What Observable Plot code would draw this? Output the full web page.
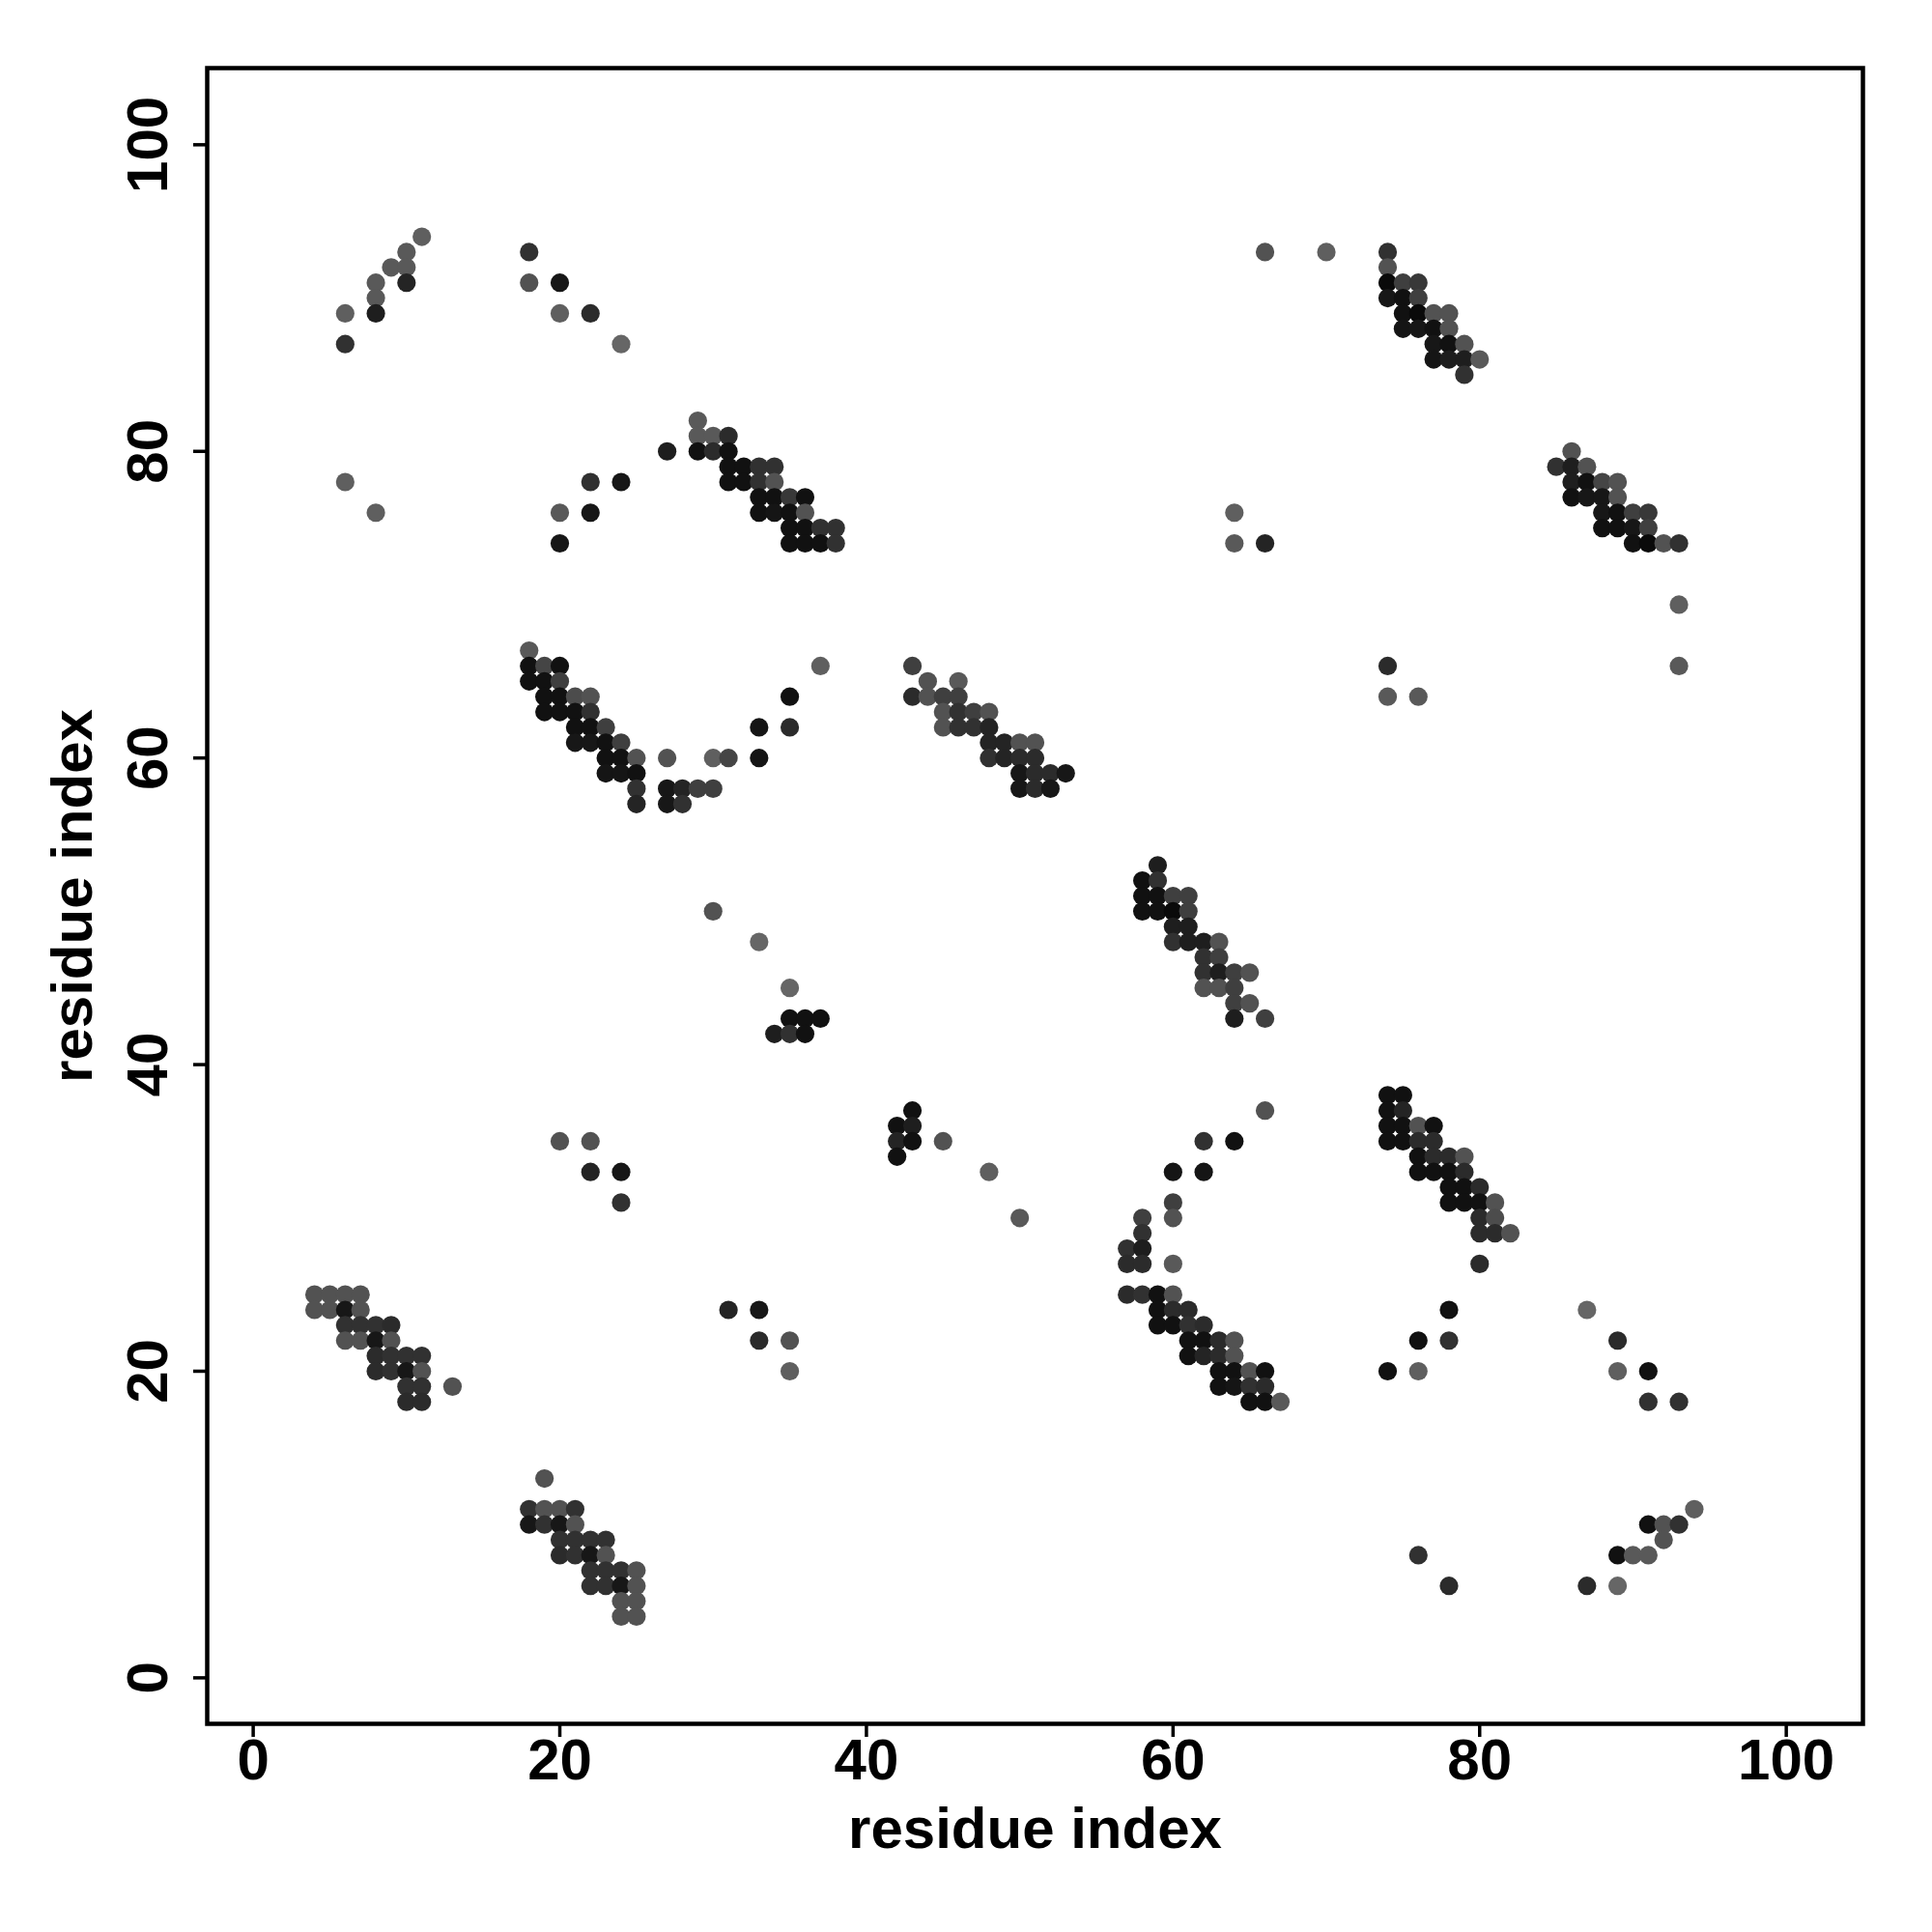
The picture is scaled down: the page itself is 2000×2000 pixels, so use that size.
<!DOCTYPE html>
<html>
<head>
<meta charset="utf-8">
<script src="https://cdn.jsdelivr.net/npm/d3@7"></script>
<script src="https://cdn.jsdelivr.net/npm/@observablehq/plot@0.6"></script>
<style>
  html, body { margin: 0; padding: 0; background: #ffffff; }
  #chart svg { display: block; }
</style>
</head>
<body>
<div id="chart"></div>
<script>
// Each contact: [residue i, residue j, score] — score drives the grey shade (higher = darker)
const clusterA = [[6,89,0.35],[6,87,0.7],[8,91,0.4],[8,90,0.4],[8,89,0.85],[9,92,0.4],[10,93,0.4],[10,92,0.4],[10,91,0.8],[11,94,0.35]];
const clusterB = [[18,93,0.7],[18,91,0.45],[20,91,0.9],[20,89,0.35],[22,89,0.75],[24,87,0.3]];
const clusterC = [[6,78,0.35],[8,76,0.35],[20,76,0.4],[20,74,0.9],[22,78,0.7],[22,76,0.9],[24,78,0.9]];
const clusterE = [
  [27,80,0.85],[29,82,0.4],
  [29,81,0.4],[30,81,0.4],[31,81,0.75],
  [29,80,0.95],[30,80,0.75],[31,80,0.95],
  [31,79,0.95],[32,79,0.95],[33,79,0.7],[34,79,0.7],
  [31,78,0.95],[32,78,0.95],[33,78,0.7],[34,78,0.45],
  [33,77,0.95],[34,77,0.95],[35,77,0.65],[36,77,0.95],
  [33,76,0.95],[34,76,0.92],[35,76,0.95],[36,76,0.45],
  [35,75,0.95],[36,75,0.95],[37,75,0.7],[38,75,0.7],
  [35,74,0.95],[36,74,0.95],[37,74,0.95],[38,74,0.7]
];
const clusterF = [
  [18,67,0.4],
  [18,66,0.95],[19,66,0.55],[20,66,0.95],
  [18,65,0.95],[19,65,0.95],[20,65,0.6],
  [19,64,0.95],[20,64,0.95],[21,64,0.5],[22,64,0.45],
  [19,63,0.95],[20,63,0.95],[21,63,0.95],[22,63,0.7],
  [21,62,0.95],[22,62,0.95],[23,62,0.6],
  [21,61,0.9],[22,61,0.9],[23,61,0.95],[24,61,0.6],
  [23,60,0.95],[24,60,0.95],[25,60,0.45],
  [23,59,0.92],[24,59,0.92],[25,59,0.95],
  [25,58,0.7],[25,57,0.8],
  [27,60,0.45],[30,60,0.35],[31,60,0.55],
  [27,58,0.9],[28,58,0.8],[29,58,0.6],[30,58,0.6],
  [27,57,0.9],[28,57,0.7],
  [33,60,0.92],[33,62,0.92],[35,62,0.75],[35,64,0.95],[37,66,0.35]
];
const clusterG = [
  [43,66,0.6],
  [44,65,0.45],[46,65,0.4],
  [43,64,0.75],[44,64,0.45],[45,64,0.6],[46,64,0.6],
  [45,63,0.45],[46,63,0.7],[47,63,0.6],[48,63,0.45],
  [45,62,0.45],[46,62,0.7],[47,62,0.7],[48,62,0.8],
  [48,61,0.8],[49,61,0.8],[50,61,0.45],[51,61,0.45],
  [48,60,0.7],[49,60,0.8],[50,60,0.75],[51,60,0.75],
  [50,59,0.9],[51,59,0.75],[52,59,0.75],[53,59,0.9],
  [50,58,0.9],[51,58,0.75],[52,58,0.9]
];
const clusterH = [
  [59,53,0.85],
  [58,52,0.95],[59,52,0.7],
  [58,51,0.95],[59,51,0.95],[60,51,0.6],[61,51,0.6],
  [58,50,0.95],[59,50,0.95],[60,50,1.0],[61,50,0.6],
  [60,49,0.85],[61,49,0.85],
  [60,48,0.7],[61,48,0.85],[62,48,0.85],[63,48,0.45],
  [62,47,0.7],[63,47,0.6],
  [62,46,0.7],[63,46,0.85],[64,46,0.6],[65,46,0.45],
  [62,45,0.45],[63,45,0.45],[64,45,0.6],
  [64,44,0.6],[65,44,0.45],
  [64,43,0.85],[66,43,0.6]
];
const clusterI = [[30,50,0.45],[33,48,0.3],[35,45,0.3],[35,43,0.95],[36,43,0.95],[37,43,0.95],[34,42,0.85],[35,42,0.7],[36,42,0.95]];
const clusterJ = [[43,37,0.95],[42,36,0.95],[43,36,0.85],[42,35,0.8],[43,35,0.95],[45,35,0.45],[42,34,0.95],[48,33,0.35],[50,30,0.4]];
const clusterK = [
  [66,37,0.45],[62,35,0.7],[64,35,0.95],[60,33,0.92],[62,33,0.92],[60,31,0.6],[60,30,0.45],
  [58,30,0.6],[58,29,0.7],[57,28,0.7],[58,28,0.85],[57,27,0.75],[58,27,0.75],[60,27,0.4],
  [57,25,0.75],[58,25,0.7],[59,25,0.95],[60,25,0.45],
  [59,24,0.95],[60,24,0.75],[61,24,0.75],
  [59,23,0.95],[60,23,0.95],[61,23,0.7],[62,23,0.75],
  [61,22,0.95],[62,22,0.95],[63,22,0.75],[64,22,0.45],
  [61,21,0.95],[62,21,0.8],[63,21,0.75],[64,21,0.45],
  [63,20,0.95],[64,20,0.95],[65,20,0.45],[66,20,0.95],
  [63,19,0.95],[64,19,0.92],[65,19,0.7],[66,19,0.75],
  [65,18,0.95],[66,18,0.95],[67,18,0.4]
];
const clusterL = [
  [74,38,0.95],[75,38,0.95],
  [74,37,0.95],[75,37,0.8],
  [74,36,0.95],[75,36,0.95],[76,36,0.45],[77,36,0.95],
  [74,35,0.95],[75,35,0.95],[76,35,0.75],[77,35,0.75],
  [76,34,0.95],[77,34,0.75],[78,34,0.75],[79,34,0.45],
  [76,33,0.95],[77,33,0.95],[78,33,0.95],[79,33,0.75],
  [78,32,0.95],[79,32,0.95],[80,32,0.75],
  [78,31,0.95],[79,31,0.95],[80,31,0.95],[81,31,0.45],
  [80,30,0.75],[81,30,0.5],
  [80,29,0.75],[81,29,0.75],[82,29,0.45],
  [80,27,0.75]
];
const clusterM = [
  [87,24,0.3],[78,24,0.95],[76,22,0.95],[78,22,0.7],[74,20,0.95],[76,20,0.35],
  [89,22,0.75],[89,20,0.35],[91,20,0.95],[91,18,0.7],[93,18,0.7],
  [94,11,0.35],[91,10,0.95],[92,10,0.45],[93,10,0.7],[92,9,0.45],[89,8,0.95],[90,8,0.4],[91,8,0.4],[87,6,0.75],[89,6,0.3],
  [76,8,0.7],[78,6,0.75]
];
const clusterN = [
  [4,25,0.45],[5,25,0.45],[6,25,0.45],[7,25,0.45],
  [4,24,0.45],[5,24,0.45],[6,24,0.9],[7,24,0.45],
  [6,23,0.7],[7,23,0.7],[8,23,0.7],[9,23,0.75],
  [6,22,0.45],[7,22,0.45],[8,22,0.9],[9,22,0.45],
  [8,21,0.75],[9,21,0.7],[10,21,0.7],[11,21,0.7],
  [8,20,0.75],[9,20,0.7],[10,20,0.9],[11,20,0.45],
  [10,19,0.7],[11,19,0.7],[13,19,0.45],
  [10,18,0.75],[11,18,0.75]
];
const clusterO = [
  [19,13,0.45],
  [18,11,0.7],[19,11,0.45],[20,11,0.45],[21,11,0.7],
  [18,10,0.9],[19,10,0.7],[20,10,0.9],[21,10,0.45],
  [20,9,0.7],[21,9,0.7],[22,9,0.7],[23,9,0.7],
  [20,8,0.75],[21,8,0.7],[22,8,0.9],[23,8,0.45],
  [22,7,0.7],[23,7,0.7],[24,7,0.7],[25,7,0.45],
  [22,6,0.7],[23,6,0.7],[24,6,0.9],[25,6,0.45],
  [24,5,0.45],[25,5,0.45],
  [24,4,0.45],[25,4,0.45]
];
const clusterP = [[20,35,0.45],[22,35,0.45],[22,33,0.8],[24,33,0.9],[24,31,0.7],[31,24,0.8],[33,24,0.9],[33,22,0.75],[35,22,0.45],[35,20,0.35]];
const clusterQ = [[66,93,0.45],[70,93,0.35],[64,76,0.35],[64,74,0.4],[66,74,0.8],[74,66,0.75],[74,64,0.4],[76,64,0.4],[93,70,0.35],[93,66,0.4]];
const clusterR = [
  [74,93,0.7],[74,92,0.45],
  [74,91,1.0],[75,91,0.6],[76,91,0.65],
  [74,90,0.9],[75,90,0.95],[76,90,0.6],
  [75,89,0.95],[76,89,1.0],[77,89,0.45],[78,89,0.45],
  [75,88,0.92],[76,88,0.9],[77,88,0.95],[78,88,0.45],
  [77,87,0.9],[78,87,0.95],[79,87,0.45],
  [77,86,0.92],[78,86,0.85],[79,86,0.85],[80,86,0.4],
  [79,85,0.7]
];
const clusterS = [
  [86,80,0.45],
  [85,79,0.7],[86,79,0.85],[87,79,0.45],
  [86,78,0.85],[87,78,0.95],[88,78,0.55],[89,78,0.45],
  [86,77,0.95],[87,77,0.9],[88,77,0.9],[89,77,0.45],
  [88,76,0.9],[89,76,0.95],[90,76,0.6],[91,76,0.65],
  [88,75,0.95],[89,75,0.95],[90,75,0.9],[91,75,0.6],
  [90,74,0.95],[91,74,1.0],[92,74,0.45],[93,74,0.7]
];

const axisTicks = [0, 20, 40, 60, 80, 100];
const xLabel = "residue index";
const yLabel = "residue index";

const contacts = [
  clusterA, clusterB, clusterC, clusterE, clusterF, clusterG, clusterH, clusterI, clusterJ,
  clusterK, clusterL, clusterM, clusterN, clusterO, clusterP, clusterQ, clusterR, clusterS
].flat().map(([i, j, s]) => ({i, j, s}));

const FONT = "'Liberation Sans', Arial, Helvetica, sans-serif";

const chart = Plot.plot({
  width: 2000,
  height: 2000,
  marginLeft: 214,
  marginRight: 72,
  marginTop: 70,
  marginBottom: 216,
  style: {fontFamily: FONT, background: "#ffffff", color: "#000000"},
  x: {domain: [-3, 105]},
  y: {domain: [-3, 105]},
  color: {type: "linear", domain: [0.3, 1], range: ["#666666", "#0a0a0a"], clamp: true},
  marks: [
    Plot.dot(contacts, {x: "i", y: "j", r: 9.6, fill: "s", stroke: null}),
    Plot.frame({stroke: "#000000", strokeWidth: 4.5}),
    Plot.axisX({ticks: axisTicks, tickSize: 14, tickPadding: 1, tickFormat: d => String(d),
      fontSize: 60, fontWeight: "bold", strokeWidth: 3.5, label: null}),
    Plot.axisY({ticks: axisTicks, tickSize: 14, tickPadding: 28, tickRotate: -90, textAnchor: "middle",
      tickFormat: d => String(d), fontSize: 60, fontWeight: "bold", strokeWidth: 3.5, label: null}),
    Plot.text([xLabel], {frameAnchor: "bottom", dy: 128, lineAnchor: "bottom", text: d => d,
      fontSize: 60, fontWeight: "bold", fill: "#000000"}),
    Plot.text([yLabel], {frameAnchor: "left", dx: -120, rotate: -90, lineAnchor: "bottom", textAnchor: "middle",
      text: d => d, fontSize: 60, fontWeight: "bold", fill: "#000000"})
  ]
});

document.getElementById("chart").appendChild(chart);
</script>
</body>
</html>
